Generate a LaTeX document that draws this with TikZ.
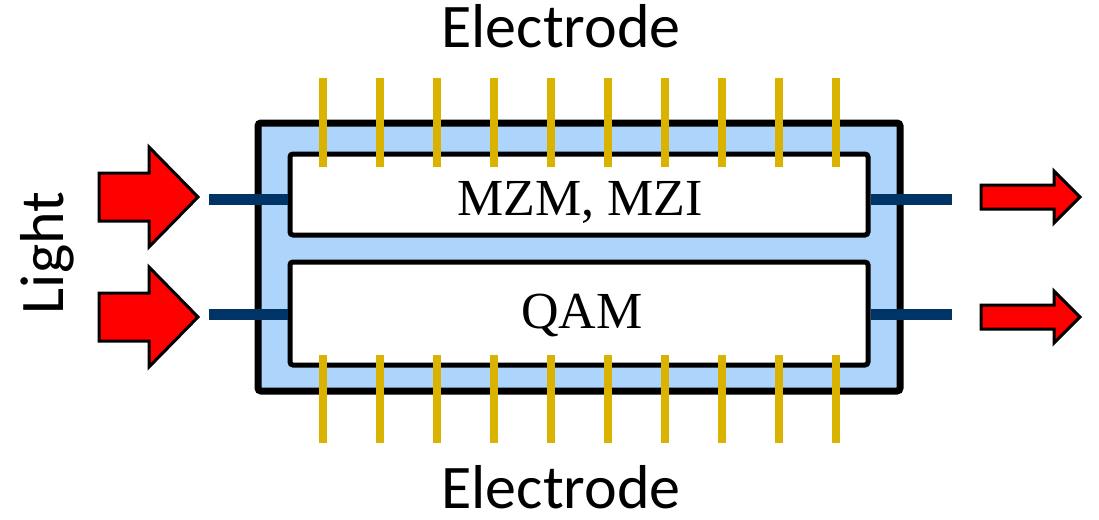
\documentclass[tikz,border=0pt]{standalone}
\usepackage{fontspec}
\setmainfont{Liberation Serif}
\newfontfamily\calfont{Carlito}
\definecolor{boxblue}{HTML}{ADD5FC}
\definecolor{wgblue}{HTML}{003366}
\definecolor{elgold}{HTML}{D9B300}
\begin{document}
\begin{tikzpicture}[x=1pt,y=-1pt,
  outerbox/.style={draw=black,line width=7pt,fill=boxblue,rounded corners=3pt,inner sep=0pt},
  innerbox/.style={draw=black,line width=5pt,fill=white,rounded corners=3pt,inner sep=0pt,minimum width=578pt},
  wg/.style={draw=wgblue,line width=11pt},
  electrodeline/.style={draw=elgold,line width=8pt},
  fatarrow/.style={draw=black,line width=3pt,fill=red,line join=miter},
  sanslabel/.style={font=\calfont\fontsize{62}{66}\selectfont,inner sep=0pt},
  seriflabel/.style={font=\fontsize{52}{56}\selectfont,inner sep=0pt}]
\useasboundingbox (0,0) rectangle (1099,519);
% boxes
\node[outerbox,minimum width=642pt,minimum height=268pt] (outer) at (579,257) {};
\node[innerbox,minimum height=81pt] (ub) at (579,194.5) {};
\node[innerbox,minimum height=103pt] (lb) at (579,313.5) {};
% waveguides
\coordinate (wl1) at (209,199);
\coordinate (wl2) at (209,314);
\coordinate (wr1) at (952,199);
\coordinate (wr2) at (952,314);
\draw[wg] (wl1) -- (wl1 -| ub.west);
\draw[wg] (wl2) -- (wl2 -| lb.west);
\draw[wg] (wr1 -| ub.east) -- (wr1);
\draw[wg] (wr2 -| lb.east) -- (wr2);
% electrodes
\foreach \i in {0,...,9}{
  \coordinate (et\i) at (323+57*\i,78);
  \coordinate (eb\i) at (323+57*\i,443);
  \draw[electrodeline] (et\i) -- ++(0,89);
  \draw[electrodeline] (eb\i) -- ++(0,-88);
}
% input arrows
\foreach \yc in {197,317}{
  \draw[fatarrow] (99,\yc-24) -- (149,\yc-24) -- (149,\yc-50) -- (198,\yc) -- (149,\yc+50) -- (149,\yc+24) -- (99,\yc+24) -- cycle;
}
% output arrows
\foreach \yc in {197,317}{
  \draw[fatarrow] (981,\yc-12) -- (1054,\yc-12) -- (1054,\yc-26) -- (1080,\yc) -- (1054,\yc+26) -- (1054,\yc+12) -- (981,\yc+12) -- cycle;
}
% labels
\node[seriflabel,anchor=base] (mzm) at (580,215) {MZM, MZI};
\node[seriflabel,anchor=base] (qam) at (582,328) {QAM};
\node[sanslabel,anchor=base] (etop) at (561,48) {Electrode};
\node[sanslabel,anchor=base,text depth=0pt] (ebot) at (561,508) {Electrode};
\node[sanslabel,anchor=base,rotate=90] (light) at (63,253) {Light};
\end{tikzpicture}
\end{document}
